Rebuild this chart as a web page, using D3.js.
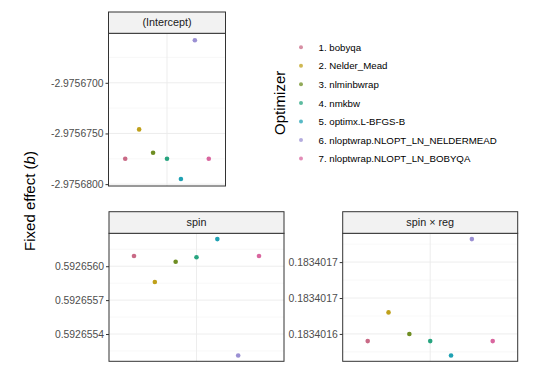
<!DOCTYPE html>
<html>
<head>
<meta charset="utf-8">
<script src="https://cdn.jsdelivr.net/npm/d3@7"></script>
<style>
  body { margin: 0; background: #fff; }
  svg { font-family: "Liberation Sans", Arial, sans-serif; }
</style>
</head>
<body>
<div id="chart"></div>
<script>
// Data
var optimizers = ["1. bobyqa", "2. Nelder_Mead", "3. nlminbwrap", "4. nmkbw",
  "5. optimx.L-BFGS-B", "6. nloptwrap.NLOPT_LN_NELDERMEAD", "7. nloptwrap.NLOPT_LN_BOBYQA"];
var colors = ["#c96a86", "#bfa01a", "#6e8d22", "#27a47f", "#1fa1b3", "#9b90d3", "#d9669f"];

var interceptValues = [-2.9756775, -2.9756746, -2.9756769, -2.9756775, -2.9756795, -2.9756658, -2.9756775];
var spinValues = [0.59265609, 0.59265586, 0.59265604, 0.59265608, 0.59265624, 0.59265521, 0.59265609];
var spinRegValues = [0.18340159, 0.18340163, 0.18340160, 0.18340159, 0.18340157, 0.183401732, 0.18340159];

var interceptTicks = [-2.97567, -2.975675, -2.97568];
var interceptLabels = ["-2.9756700", "-2.9756750", "-2.9756800"];
var spinTicks = [0.592656, 0.5926557, 0.5926554];
var spinLabels = ["0.5926560", "0.5926557", "0.5926554"];
var spinRegTicks = [0.1834017, 0.18340165, 0.1834016];
var spinRegLabels = ["0.1834017", "0.1834017", "0.1834016"];

// Set up chart
var svgWidth = 540;
var svgHeight = 386;

var svg = d3.select("#chart")
  .append("svg")
  .attr("width", svgWidth)
  .attr("height", svgHeight);

svg.append("rect")
  .attr("width", svgWidth)
  .attr("height", svgHeight)
  .attr("fill", "#fff");

var panels = [
  { title: "(Intercept)", values: interceptValues, ticks: interceptTicks, labels: interceptLabels,
    left: 108.5, right: 225.5, stripTop: 12, top: 33.3, bottom: 186 },
  { title: "spin", values: spinValues, ticks: spinTicks, labels: spinLabels,
    left: 109, right: 284, stripTop: 211.7, top: 233.3, bottom: 361.3 },
  { title: "spin \u00d7 reg", values: spinRegValues, ticks: spinRegTicks, labels: spinRegLabels,
    left: 342.7, right: 517.7, stripTop: 211.7, top: 233.3, bottom: 361.3 }
];

panels.forEach(function(p) {
  var ext = d3.extent(p.values);
  var pad = (ext[1] - ext[0]) * 0.05;

  var xScale = d3.scaleLinear()
    .domain([-0.2, 8.2])
    .range([p.left, p.right]);

  var yScale = d3.scaleLinear()
    .domain([ext[0] - pad, ext[1] + pad])
    .range([p.bottom, p.top]);

  var g = svg.append("g");

  // minor grid lines halfway between the breaks
  var step = p.ticks[0] - p.ticks[1];
  var minor = [];
  for (var k = -3; k < 6; k++) {
    var v = p.ticks[0] + step / 2 - k * step;
    if (v > yScale.domain()[0] && v < yScale.domain()[1]) minor.push(v);
  }
  g.selectAll(".minor")
    .data(minor)
    .enter()
    .append("line")
    .attr("x1", p.left)
    .attr("x2", p.right)
    .attr("y1", d => yScale(d))
    .attr("y2", d => yScale(d))
    .attr("stroke", "#f4f4f4")
    .attr("stroke-width", 0.6);

  g.selectAll(".major")
    .data(p.ticks)
    .enter()
    .append("line")
    .attr("x1", p.left)
    .attr("x2", p.right)
    .attr("y1", d => yScale(d))
    .attr("y2", d => yScale(d))
    .attr("stroke", "#ebebeb")
    .attr("stroke-width", 0.9);

  g.append("line")
    .attr("x1", xScale(4))
    .attr("x2", xScale(4))
    .attr("y1", p.top)
    .attr("y2", p.bottom)
    .attr("stroke", "#ebebeb")
    .attr("stroke-width", 0.9);

  // points
  g.selectAll("circle")
    .data(p.values)
    .enter()
    .append("circle")
    .attr("cx", (d, i) => xScale(i + 1))
    .attr("cy", d => yScale(d))
    .attr("r", 2.3)
    .attr("fill", (d, i) => colors[i]);

  // y axis
  var leftAxis = d3.axisLeft(yScale)
    .tickValues(p.ticks)
    .tickFormat((d, i) => p.labels[i])
    .tickSize(3)
    .tickPadding(2);

  var ax = g.append("g")
    .attr("transform", `translate(${p.left}, 0)`)
    .call(leftAxis);
  ax.select(".domain").remove();
  ax.selectAll("line").attr("stroke", "#333");
  ax.selectAll("text")
    .attr("fill", "#4d4d4d")
    .style("font-size", "10.4px")
    .style("font-family", "Liberation Sans, Arial, sans-serif");

  // panel border and strip
  g.append("rect")
    .attr("x", p.left)
    .attr("y", p.top)
    .attr("width", p.right - p.left)
    .attr("height", p.bottom - p.top)
    .attr("fill", "none")
    .attr("stroke", "#333")
    .attr("stroke-width", 1);

  g.append("rect")
    .attr("x", p.left)
    .attr("y", p.stripTop)
    .attr("width", p.right - p.left)
    .attr("height", p.top - p.stripTop)
    .attr("fill", "#f2f2f2")
    .attr("stroke", "#333")
    .attr("stroke-width", 1);

  g.append("text")
    .attr("x", (p.left + p.right) / 2)
    .attr("y", (p.stripTop + p.top) / 2 + 3.8)
    .attr("text-anchor", "middle")
    .attr("fill", "#1a1a1a")
    .style("font-size", "10.8px")
    .text(p.title);
});

// Axis title
var yTitle = svg.append("text")
  .attr("transform", "translate(35, 201) rotate(-90)")
  .attr("text-anchor", "middle")
  .attr("fill", "#000")
  .style("font-size", "15px");
yTitle.append("tspan").text("Fixed effect (");
yTitle.append("tspan").style("font-style", "italic").text("b");
yTitle.append("tspan").text(")");

// Legend
var legendY = d3.scalePoint()
  .domain(optimizers)
  .range([47.3, 158.5]);

svg.append("text")
  .attr("transform", "translate(285, 102.8) rotate(-90)")
  .attr("text-anchor", "middle")
  .attr("fill", "#000")
  .style("font-size", "15px")
  .text("Optimizer");

var legend = svg.append("g");
legend.selectAll("circle")
  .data(optimizers)
  .enter()
  .append("circle")
  .attr("cx", 301)
  .attr("cy", d => legendY(d))
  .attr("r", 2)
  .attr("fill", (d, i) => colors[i])
  .attr("opacity", 0.75);

legend.selectAll("text")
  .data(optimizers)
  .enter()
  .append("text")
  .attr("x", 318.5)
  .attr("y", d => legendY(d) + 3.6)
  .attr("fill", "#000")
  .style("font-size", "9.7px")
  .text(d => d);
</script>
</body>
</html>
